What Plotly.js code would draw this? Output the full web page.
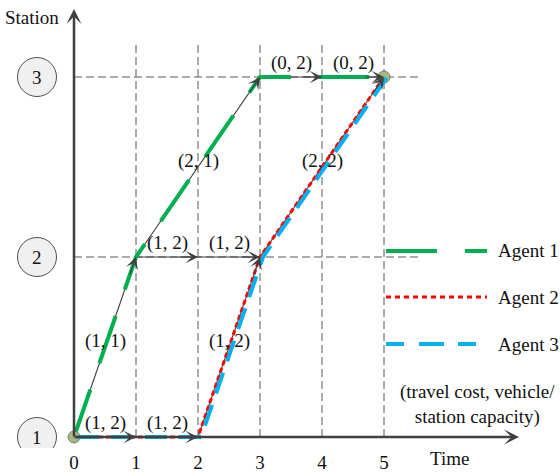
<!DOCTYPE html>
<html>
<head>
<meta charset="utf-8">
<script src="https://cdn.plot.ly/plotly-3.0.1.min.js"></script>
<style>html,body{margin:0;padding:0;background:#fff;}#chart{width:560px;height:476px;}</style>
</head>
<body>
<div id="chart"></div>
<script>
// ---------------- data ----------------
const times = [0, 1, 2, 3, 4, 5];
const stations = [1, 2, 3];
const agentNames = ['Agent 1', 'Agent 2', 'Agent 3'];
const agent1T = [0, 1, 3, 4, 5];
const agent1S = [1, 2, 3, 3, 3];
const agent2T = [0, 2, 3, 5];
const agent2S = [1, 1, 2, 3];
const agent3T = [0, 2, 3, 5];
const agent3S = [1, 1, 2, 3];
const edgeFromT = [0, 1, 0, 1, 2, 1, 2, 3, 3, 4];
const edgeFromS = [1, 1, 1, 2, 2, 2, 1, 2, 3, 3];
const edgeToT   = [1, 2, 1, 2, 3, 3, 3, 5, 4, 5];
const edgeToS   = [1, 1, 2, 2, 2, 3, 2, 3, 3, 3];
const edgeLabels = ['(1, 2)', '(1, 2)', '(1, 1)', '(1, 2)', '(1, 2)', '(2, 1)', '(1, 2)', '(2, 2)', '(0, 2)', '(0, 2)'];
const endT = [0, 5];
const endS = [1, 3];
const noteText = '(travel cost, vehicle/<br>station capacity)';

// ---------------- layout constants ----------------
const W = 560, H = 476;
const L = 63, R = 42, T = 40, B = 28;
const pw = W - L - R, ph = H - T - B;
const pxX = 62, pxY = 180;           // pixels per unit
const xr = [-11 / pxX, -11 / pxX + pw / pxX];
const yr = [1 - 11 / pxY, 1 - 11 / pxY + ph / pxY];
const fx = p => (p - L) / pw;        // pixel -> paper x
const fy = p => (H - B - p) / ph;    // pixel -> paper y
const FONT = '"Liberation Serif", "Times New Roman", serif';
const AX = '#404040';

// ---------------- traces ----------------
const traces = [];
const cx = [], cy = [];
for (let i = 0; i < edgeFromT.length; i++) {
  cx.push(edgeFromT[i], edgeToT[i], null);
  cy.push(edgeFromS[i], edgeToS[i], null);
}
traces.push({x: cx, y: cy, mode: 'lines', line: {color: AX, width: 1.1}, hoverinfo: 'skip', showlegend: false});
traces.push({x: agent3T, y: agent3S, xaxis: 'x2', mode: 'lines', name: agentNames[2],
  line: {color: '#00b0f0', width: 4, dash: '22px,12px'}, showlegend: false});
traces.push({x: agent2T, y: agent2S, mode: 'lines', name: agentNames[1],
  line: {color: '#ff0000', width: 3, dash: '5px,3px'}, showlegend: false});
traces.push({x: agent1T, y: agent1S, mode: 'lines', name: agentNames[0],
  line: {color: '#00b050', width: 4, dash: '50px,28px'}, showlegend: false});
traces.push({x: endT, y: endS, mode: 'markers', cliponaxis: false,
  marker: {size: 12, color: '#a8b87c', line: {color: '#7f7f7f', width: 1}}, hoverinfo: 'skip', showlegend: false});

// ---------------- shapes ----------------
const shapes = [];
const gridLine = {color: '#595959', width: 1, dash: '8px,4px'};
times.filter(t => t > 0).forEach(t => {
  shapes.push({type: 'line', xref: 'x', yref: 'y', x0: t, x1: t, y0: 1, y1: 3 + 35 / pxY, line: gridLine, layer: 'below'});
});
stations.filter(s => s > 1).forEach(s => {
  shapes.push({type: 'line', xref: 'x', yref: 'y', x0: 0, x1: 5.58, y0: s, y1: s, line: gridLine, layer: 'below'});
});
stations.forEach(s => {
  shapes.push({type: 'circle', xref: 'paper', yref: 'y', xsizemode: 'pixel', ysizemode: 'pixel',
    xanchor: fx(37), yanchor: s, x0: -19.5, x1: 19.5, y0: -19.5, y1: 19.5,
    fillcolor: '#f0f0f0', line: {color: '#505050', width: 1}});
});
const legY = [251, 297, 344];
const legStyles = [
  {color: '#00b050', width: 4, dash: '51px,28px'},
  {color: '#ff0000', width: 3, dash: '5px,4px'},
  {color: '#00b0f0', width: 4, dash: '18px,15px,25px,14px'}
];
agentNames.forEach((n, i) => {
  shapes.push({type: 'line', xref: 'paper', yref: 'paper', x0: fx(386), x1: fx(487), y0: fy(legY[i]), y1: fy(legY[i]), line: legStyles[i]});
});

// ---------------- annotations ----------------
const ann = [];
const tf = {family: FONT, size: 19, color: '#111'};
ann.push({xref: 'x', yref: 'paper', x: 0, y: fy(9), axref: 'pixel', ayref: 'pixel', ax: 0, ay: 437 - 9 + 1,
  text: '', showarrow: true, arrowhead: 3, arrowsize: 1, arrowwidth: 2.5, arrowcolor: AX});
ann.push({xref: 'paper', yref: 'y', x: fx(519), y: 1, axref: 'pixel', ayref: 'pixel', ax: -(519 - 74 + 1), ay: 0,
  text: '', showarrow: true, arrowhead: 3, arrowsize: 1, arrowwidth: 2.5, arrowcolor: AX});
for (let i = 0; i < edgeFromT.length; i++) {
  const dt = edgeToT[i] - edgeFromT[i], ds = edgeToS[i] - edgeFromS[i];
  const f = 20 / Math.hypot(dt * pxX, ds * pxY);
  ann.push({xref: 'x', yref: 'y', axref: 'x', ayref: 'y', x: edgeToT[i], y: edgeToS[i],
    ax: edgeToT[i] - f * dt, ay: edgeToS[i] - f * ds, text: '', showarrow: true,
    arrowhead: 3, arrowsize: 1.8, arrowwidth: 1.15, arrowcolor: AX});
  const horiz = ds === 0;
  ann.push({xref: 'x', yref: 'y', x: (edgeFromT[i] + edgeToT[i]) / 2, y: (edgeFromS[i] + edgeToS[i]) / 2,
    xanchor: 'center', yanchor: 'middle', yshift: horiz ? 14 : 6, text: edgeLabels[i], showarrow: false, font: tf});
}
stations.forEach(s => {
  ann.push({xref: 'paper', yref: 'y', x: fx(37), y: s, xanchor: 'center', yanchor: 'middle', text: String(s), showarrow: false, font: tf});
});
ann.push({xref: 'paper', yref: 'paper', x: fx(32), y: fy(18), xanchor: 'center', yanchor: 'middle', text: 'Station', showarrow: false, font: tf});
ann.push({xref: 'paper', yref: 'paper', x: fx(449), y: fy(459), xanchor: 'center', yanchor: 'middle', text: 'Time', showarrow: false, font: tf});
agentNames.forEach((n, i) => {
  ann.push({xref: 'paper', yref: 'paper', x: fx(496), y: fy(legY[i]), xanchor: 'left', yanchor: 'middle', text: n, showarrow: false, font: tf});
});
ann.push({xref: 'paper', yref: 'paper', x: fx(477), y: fy(404), xanchor: 'center', yanchor: 'middle', text: noteText, showarrow: false, font: tf, align: 'center'});

const layout = {
  width: W, height: H,
  margin: {l: L, r: R, t: T, b: B, pad: 0},
  paper_bgcolor: '#fff', plot_bgcolor: 'rgba(0,0,0,0)',
  font: {family: FONT, size: 19, color: '#111'},
  showlegend: false,
  xaxis: {range: xr, showgrid: false, zeroline: false, showline: false, ticks: '',
    tickvals: times, ticktext: times.map(String), tickfont: {family: FONT, size: 19, color: '#111'}, ticklabelstandoff: 1},
  xaxis2: {range: [xr[0] - 3 / pxX, xr[1] - 3 / pxX], overlaying: 'x', visible: false},
  yaxis: {range: yr, showgrid: false, zeroline: false, showline: false, showticklabels: false, ticks: ''},
  shapes: shapes,
  annotations: ann
};

Plotly.newPlot('chart', traces, layout, {displayModeBar: false, staticPlot: true});
</script>
</body>
</html>
